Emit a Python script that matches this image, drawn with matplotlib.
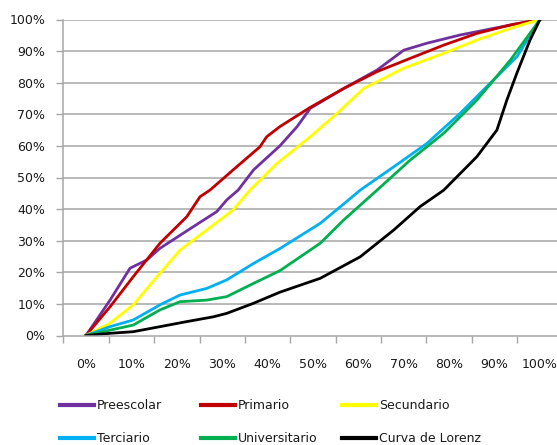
import numpy as np
import matplotlib.pyplot as plt
from matplotlib.ticker import FixedLocator, PercentFormatter

# cumulative share of population (x) vs cumulative share of spending (y)
preescolar_x = [0.0, 0.053, 0.097, 0.134, 0.163, 0.236, 0.288, 0.31, 0.335, 0.369, 0.427,
                0.465, 0.494, 0.568, 0.641, 0.70, 0.751, 0.824, 0.898, 1.0]
preescolar_y = [0.0, 0.112, 0.213, 0.239, 0.276, 0.344, 0.392, 0.429, 0.46, 0.524, 0.60,
                0.661, 0.719, 0.782, 0.84, 0.903, 0.925, 0.951, 0.972, 1.0]

primario_x = [0.0, 0.053, 0.104, 0.163, 0.222, 0.251, 0.273, 0.324, 0.383, 0.398, 0.427,
              0.494, 0.568, 0.641, 0.714, 0.788, 0.861, 0.935, 1.0]
primario_y = [0.0, 0.091, 0.186, 0.292, 0.376, 0.439, 0.46, 0.524, 0.597, 0.629, 0.661,
              0.722, 0.782, 0.835, 0.877, 0.919, 0.956, 0.983, 1.0]

secundario_x = [0.0, 0.053, 0.104, 0.163, 0.207, 0.266, 0.324, 0.361, 0.421, 0.494, 0.553,
                0.612, 0.641, 0.70, 0.788, 0.861, 0.935, 1.0]
secundario_y = [0.0, 0.039, 0.097, 0.197, 0.27, 0.334, 0.397, 0.46, 0.545, 0.629, 0.703,
                0.782, 0.803, 0.846, 0.893, 0.935, 0.972, 1.0]

terciario_x = [0.0, 0.053, 0.104, 0.163, 0.207, 0.266, 0.31, 0.369, 0.427, 0.516, 0.575,
               0.604, 0.678, 0.751, 0.824, 0.89, 0.949, 1.0]
terciario_y = [0.0, 0.028, 0.049, 0.097, 0.128, 0.149, 0.176, 0.228, 0.275, 0.355, 0.425,
               0.46, 0.534, 0.608, 0.703, 0.798, 0.882, 1.0]

universitario_x = [0.0, 0.053, 0.104, 0.163, 0.207, 0.266, 0.31, 0.369, 0.427, 0.516, 0.568,
                   0.641, 0.714, 0.788, 0.861, 0.935, 1.0]
universitario_y = [0.0, 0.017, 0.033, 0.081, 0.107, 0.112, 0.123, 0.165, 0.205, 0.292, 0.366,
                   0.46, 0.555, 0.64, 0.745, 0.872, 1.0]

lorenz_x = [0.0, 0.053, 0.104, 0.163, 0.222, 0.28, 0.31, 0.369, 0.427, 0.516, 0.604, 0.678,
            0.736, 0.788, 0.81, 0.861, 0.905, 0.927, 0.949, 0.978, 1.0]
lorenz_y = [0.0, 0.007, 0.012, 0.028, 0.044, 0.059, 0.07, 0.102, 0.137, 0.181, 0.249, 0.334,
            0.408, 0.46, 0.492, 0.566, 0.65, 0.745, 0.83, 0.935, 1.0]

series = [
    ("Preescolar", preescolar_x, preescolar_y, "#7030A0"),
    ("Primario", primario_x, primario_y, "#C00000"),
    ("Secundario", secundario_x, secundario_y, "#FFFF00"),
    ("Terciario", terciario_x, terciario_y, "#00B0F0"),
    ("Universitario", universitario_x, universitario_y, "#00B050"),
    ("Curva de Lorenz", lorenz_x, lorenz_y, "#000000"),
]

W, H = 557, 445
fig = plt.figure(figsize=(W / 100, H / 100), dpi=100)
# axes run a bit past the right edge of the figure
ax = fig.add_axes([63.3 / W, (H - 335.5) / H, 499.4 / W, 316 / H])

lines = []
for name, xs, ys, col in series:
    ln, = ax.plot(xs, ys, color=col, lw=2.0, label=name, solid_joinstyle="round")
    lines.append(ln)

ax.set_xlim(-0.05, 1.05)
ax.set_ylim(0, 1)

grid_col = "#a6a6a6"
ax.set_yticks(np.arange(0, 1.01, 0.1))
ax.yaxis.set_major_formatter(PercentFormatter(1.0, decimals=0))
for v in np.arange(0.1, 1.01, 0.1):
    ax.axhline(v, color=grid_col, lw=1.1, zorder=0)

ax.set_xticks(np.arange(0, 1.01, 0.1))
ax.xaxis.set_major_formatter(PercentFormatter(1.0, decimals=0))
ax.xaxis.set_minor_locator(FixedLocator(np.arange(-0.05, 1.0, 0.1)))
ax.tick_params(axis="x", which="major", length=0, pad=16, labelsize=9, labelcolor="#1a1a1a")
ax.tick_params(axis="x", which="minor", length=5, width=1, color=grid_col)
ax.tick_params(axis="y", length=5, width=1, color=grid_col, pad=8, labelsize=9,
               labelcolor="#1a1a1a")

for side in ["top", "right"]:
    ax.spines[side].set_visible(False)
for side in ["left", "bottom"]:
    ax.spines[side].set_color(grid_col)
    ax.spines[side].set_linewidth(1.1)

# legend: three columns of two entries each
col_x = [60, 201, 342]
for c in range(3):
    handles = [lines[c], lines[c + 3]]
    leg = fig.legend(handles, [h.get_label() for h in handles], loc="upper left",
                     bbox_to_anchor=(col_x[c] / W, 1 - 399 / H), frameon=False,
                     borderpad=0, borderaxespad=0, handlelength=2.7, handletextpad=0.25,
                     labelspacing=1.6, fontsize=9)
    for t in leg.get_texts():
        t.set_color("#1a1a1a")
    for lh in leg.get_lines():
        lh.set_linewidth(3)

fig.savefig("out.png", dpi=100)
